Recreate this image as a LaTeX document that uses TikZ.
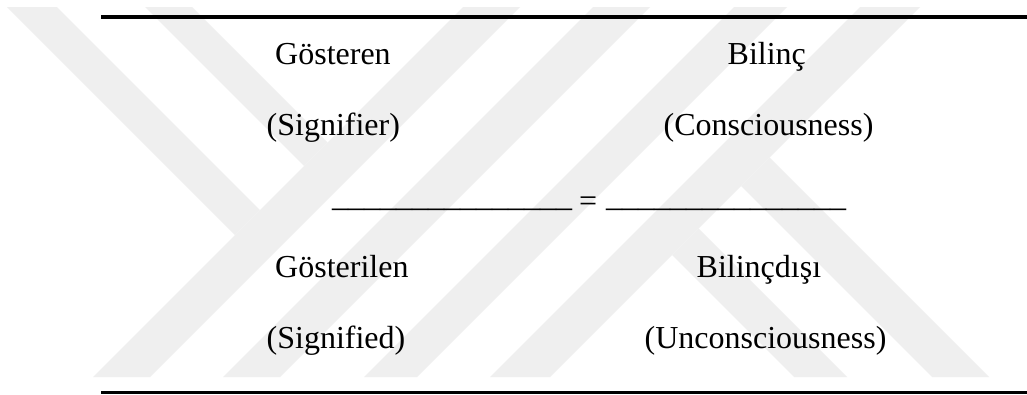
\documentclass[tikz,border=0pt]{standalone}
\usepackage{fontspec}
\setmainfont{Liberation Serif}
\definecolor{wmgray}{RGB}{239,239,239}
\tikzset{
  band/.style={fill=wmgray, draw=none},
  word/.style={inner sep=0pt, anchor=base west, font=\fontsize{32}{38}\selectfont},
  tablerule/.style={line width=3.6pt, black}
}
\begin{document}
\begin{tikzpicture}[x=1pt,y=-1pt]
\useasboundingbox (0,0) rectangle (1027,394);
\fill[white] (0,0) rectangle (1027,394);

% faint striped emblem in the background
\begin{scope}
  \clip (0,7) rectangle (1027,377);
  % left chevron: two falling stripes ending on the first rising stripe
  \fill[band] (7,7) -- (57,7) -- (260,210) -- (235,235) -- cycle;
  \fill[band] (145,7) -- (192,7) -- (327.5,142.5) -- (304,166) -- cycle;
  % rising stripes
  \fill[band] (463,7) -- (520,7) -- (150,377) -- (93,377) -- cycle;
  \fill[band] (593,7) -- (650,7) -- (280,377) -- (223,377) -- cycle;
  \fill[band] (734,7) -- (787,7) -- (417,377) -- (364,377) -- cycle;
  \fill[band] (860,7) -- (920,7) -- (550,377) -- (490,377) -- cycle;
  % falling stripes leaving the last rising stripe
  \fill[band] (741,186) -- (769.5,157.5) -- (989,377) -- (932,377) -- cycle;
  \fill[band] (672,255) -- (698.5,228.5) -- (847,377) -- (794,377) -- cycle;
\end{scope}

% table rules
\coordinate (topL) at (101,17);
\coordinate (topR) at (1030,17);
\coordinate (botL) at (101,392.5);
\coordinate (botR) at (1030,392.5);
\draw[tablerule] (topL) -- (topR);
\draw[tablerule] (botL) -- (botR);

% left column
\node[word] (gosteren)   at (275,64.5)  {Gösteren};
\node[word] (signifier)  at (266.5,135) {(Signifier)};
\node[word] (gosterilen) at (275,277)   {Gösterilen};
\node[word] (signified)  at (266.5,348) {(Signified)};

% fraction bars and equals sign
\node[word] (barL) at (332,206) {\_\_\_\_\_\_\_\_\_\_\_\_\_\_\_};
\node[word] (eq)   at (579,211) {=};
\node[word] (barR) at (606,206) {\_\_\_\_\_\_\_\_\_\_\_\_\_\_\_};

% right column
\node[word] (bilinc)     at (727.5,64.5) {Bilinç};
\node[word] (conscious)  at (663.5,135)  {(Consciousness)};
\node[word] (bilincdisi) at (696.5,277)  {Bilinçdışı};
\node[word] (unconsc)    at (644.5,348)  {(Unconsciousness)};
\end{tikzpicture}
\end{document}
